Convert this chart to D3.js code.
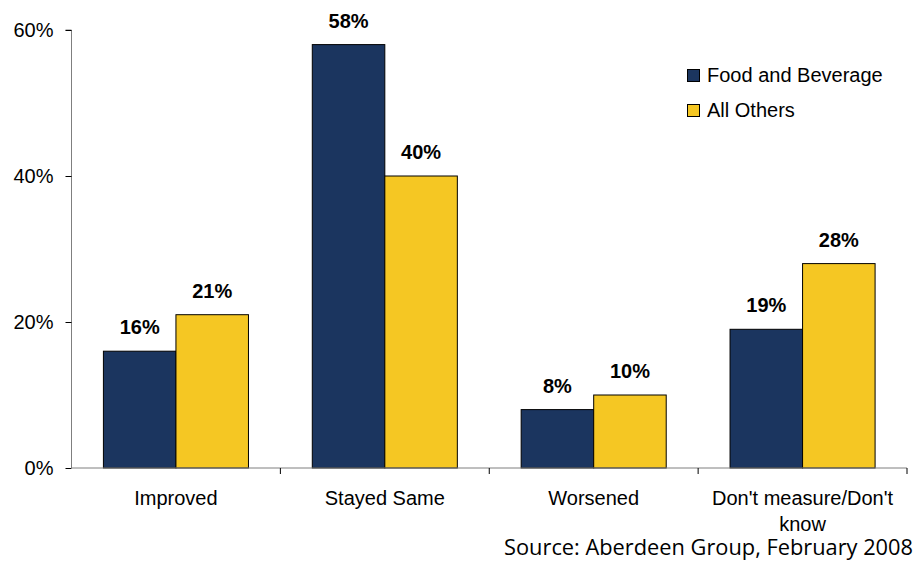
<!DOCTYPE html>
<html>
<head>
<meta charset="utf-8">
<script src="https://cdn.jsdelivr.net/npm/d3@7"></script>
<style>
  html, body { margin: 0; padding: 0; background: #fff; }
  svg { display: block; }
  text { font-family: "Liberation Sans", Arial, sans-serif; fill: #000; }
</style>
</head>
<body>
<svg id="chart" width="915" height="562"></svg>
<script>
// ---- data ----
const categories = ["Improved", "Stayed Same", "Worsened", "Don't measure/Don't know"];
const seriesNames = ["Food and Beverage", "All Others"];
const foodAndBeverage = [16, 58, 8, 19];
const allOthers = [21, 40, 10, 28];
const yTicks = [0, 20, 40, 60];
const sourceText = "Source: Aberdeen Group, February 2008";

const seriesValues = [foodAndBeverage, allOthers];
const colors = ["#1B355F", "#F5C723"];

const svg = d3.select("#chart");
const margin = {left: 71.5, right: 8, top: 30, bottom: 94};
const W = 915, H = 562;
const plotBottom = H - margin.bottom; // 468
const plotRight = W - margin.right;   // 907

const x0 = d3.scaleBand().domain(categories).range([margin.left, plotRight]).paddingInner(0).paddingOuter(0);
const x1 = d3.scaleBand().domain(seriesNames).range([0, x0.bandwidth()]).paddingInner(0).paddingOuter(0.44);
const y = d3.scaleLinear().domain([0, 60]).range([plotBottom, margin.top]);

// y axis
const yAxis = d3.axisLeft(y).tickValues(yTicks).tickFormat(d => d + "%").tickSize(6).tickPadding(12);
const gy = svg.append("g").attr("transform", `translate(${margin.left},0)`).call(yAxis);
gy.select(".domain").attr("stroke", "#7f7f7f").attr("d", `M-6,${y(60)}H0V${y(0)}`);
gy.selectAll(".tick line").attr("stroke", "#000");
gy.selectAll(".tick text").style("font-size", "20px").attr("fill", "#000").style("font-family", "'Liberation Sans', Arial, sans-serif");

// bars
const groups = svg.append("g").selectAll("g").data(categories).join("g")
  .attr("transform", d => `translate(${x0(d)},0)`);

seriesNames.forEach((s, si) => {
  groups.append("rect")
    .attr("x", x1(s))
    .attr("y", (d, i) => y(seriesValues[si][i]))
    .attr("width", x1.bandwidth())
    .attr("height", (d, i) => y(0) - y(seriesValues[si][i]))
    .attr("fill", colors[si])
    .attr("stroke", "#000")
    .attr("stroke-width", 1);
  groups.append("text")
    .attr("x", x1(s) + x1.bandwidth() / 2)
    .attr("y", (d, i) => y(seriesValues[si][i]) - 17)
    .attr("text-anchor", "middle")
    .style("font-size", "20px")
    .style("font-weight", "bold")
    .text((d, i) => seriesValues[si][i] + "%");
});

// x axis line and boundary ticks
const gx = svg.append("g");
gx.append("line").attr("x1", margin.left).attr("x2", plotRight)
  .attr("y1", plotBottom).attr("y2", plotBottom).attr("stroke", "#7f7f7f").attr("stroke-width", 1);
const boundaries = categories.map(c => x0(c)).concat([x0.range()[1]]);
gx.selectAll(".bt").data(boundaries.slice(1)).join("line")
  .attr("x1", d => d).attr("x2", d => d)
  .attr("y1", plotBottom).attr("y2", plotBottom + 6)
  .attr("stroke", "#000");

// category labels with wrapping
categories.forEach(c => {
  const t = gx.append("text")
    .attr("x", x0(c) + x0.bandwidth() / 2)
    .attr("y", plotBottom + 37)
    .attr("text-anchor", "middle")
    .style("font-size", "20px");
  const words = c.split(" ");
  let line = [];
  let tspan = t.append("tspan").attr("x", x0(c) + x0.bandwidth() / 2).attr("dy", 0);
  words.forEach(w => {
    line.push(w);
    tspan.text(line.join(" "));
    if (tspan.node().getComputedTextLength() > x0.bandwidth() - 6 && line.length > 1) {
      line.pop();
      tspan.text(line.join(" "));
      line = [w];
      tspan = t.append("tspan").attr("x", x0(c) + x0.bandwidth() / 2).attr("dy", 26).text(w);
    }
  });
});

// legend
const legend = svg.append("g").attr("transform", "translate(687,69)");
seriesNames.forEach((s, i) => {
  const g = legend.append("g").attr("transform", `translate(0,${i * 35})`);
  g.append("rect").attr("x", 0.5).attr("y", 0.5).attr("width", 12).attr("height", 12)
    .attr("fill", colors[i]).attr("stroke", "#000").attr("stroke-width", 1);
  g.append("text").attr("x", 20).attr("y", 12.5).style("font-size", "20px").text(s);
});

// source
svg.append("text")
  .attr("x", 913).attr("y", 555)
  .attr("text-anchor", "end")
  .style("font-family", "'Open Sans', Lato, sans-serif")
  .style("font-size", "21.8px")
  .text(sourceText);
</script>
</body>
</html>
